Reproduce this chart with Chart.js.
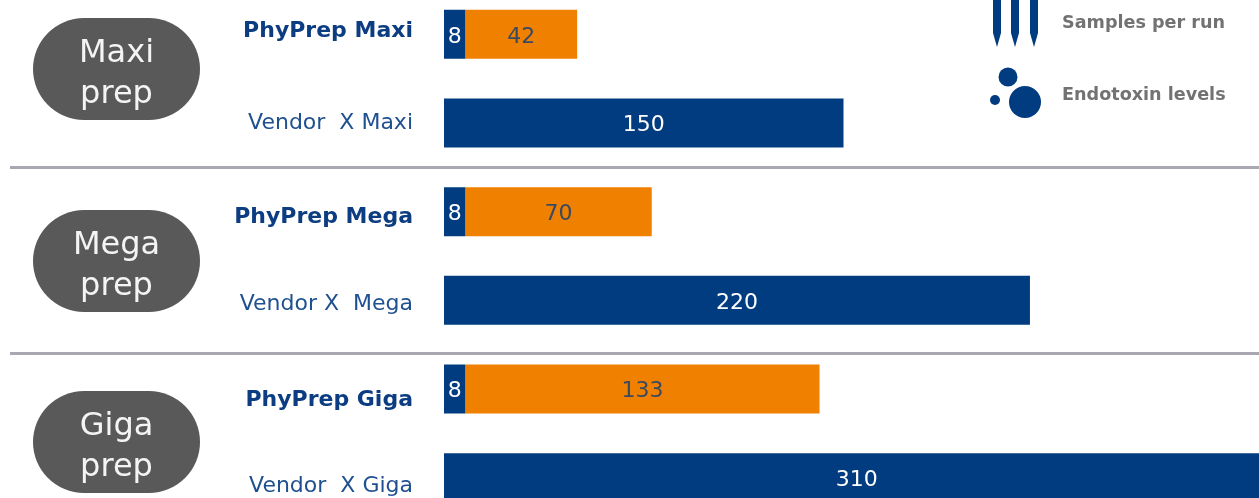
<!DOCTYPE html>
<html>
<head>
<meta charset="utf-8">
<script src="https://cdn.jsdelivr.net/npm/chart.js@4"></script>
<style>
  html, body { margin: 0; background: #fff; }
  #wrap { position: relative; width: 1259px; height: 498px; overflow: hidden; font-family: "DejaVu Sans", sans-serif; filter: blur(0.4px); }
  canvas { position: absolute; left: 0; top: -10px; }
  .rule { position: absolute; left: 10px; right: 0; height: 3px; background: #a8a8b2; }
  .pill { position: absolute; left: 33px; width: 167px; height: 102px; border-radius: 51px; background: #595959; color: #f4f4f4; font-size: 32px; line-height: 41px; text-align: center; padding-top: 13px; box-sizing: border-box; }
  .key { position: absolute; left: 1062px; font-size: 17.6px; font-weight: bold; color: #727272; white-space: nowrap; }
  svg { position: absolute; left: 980px; top: 0; }
</style>
</head>
<body>
<div id="wrap">
  <canvas id="chart" width="1259" height="532"></canvas>
  <div class="rule" style="top:166px"></div>
  <div class="rule" style="top:352px"></div>
  <div class="pill" style="top:18px">Maxi<br>prep</div>
  <div class="pill" style="top:210px">Mega<br>prep</div>
  <div class="pill" style="top:391px">Giga<br>prep</div>
  <svg width="70" height="125" fill="#003c7f">
    <path d="M13 0h8v33l-4 14l-4-14z"/>
    <path d="M31 0h8v33l-4 14l-4-14z"/>
    <path d="M50 0h8v33l-4 14l-4-14z"/>
    <circle cx="28" cy="77" r="9.500"/>
    <circle cx="15" cy="100" r="5"/>
    <circle cx="45" cy="102" r="16"/>
  </svg>
  <div class="key" style="top:12px">Samples per run</div>
  <div class="key" style="top:84px">Endotoxin levels</div>
</div>
<script>
const categories = ['PhyPrep Maxi', 'Vendor  X Maxi', 'PhyPrep Mega', 'Vendor X  Mega', 'PhyPrep Giga', 'Vendor  X Giga'];
const blueValues = [8, 150, 8, 220, 8, 310];
const orangeValues = [42, null, 70, null, 133, null];
const blue = '#003c7f';
const orange = '#f08000';

// the category labels sit a little off the bar centres in the original
const labelShift = [-3, 0, 6, 4, 11, 9];

const barLabels = {
  id: 'barLabels',
  afterDatasetsDraw(chart) {
    const ctx = chart.ctx;
    const y = chart.scales.y;
    ctx.save();
    ctx.textBaseline = 'middle';

    chart.data.datasets.forEach((ds, d) => {
      chart.getDatasetMeta(d).data.forEach((bar, i) => {
        if (ds.data[i] == null) return;
        ctx.textAlign = 'center';
        ctx.font = '22px "DejaVu Sans"';
        ctx.fillStyle = d === 0 ? '#ffffff' : '#3a4a60';
        ctx.fillText(ds.data[i], (bar.x + bar.base) / 2, bar.y + 2.5);
      });
    });

    categories.forEach((label, i) => {
      const bold = i % 2 === 0;
      ctx.textAlign = 'right';
      ctx.font = (bold ? 'bold ' : '') + '22px "DejaVu Sans"';
      ctx.fillStyle = bold ? '#0c3c82' : '#1f5090';
      ctx.fillText(label, 413, y.getPixelForValue(i) + labelShift[i]);
    });
    ctx.restore();
  },
};

new Chart(document.getElementById('chart'), {
  type: 'bar',
  data: {
    labels: categories,
    datasets: [
      { label: 'Base', data: blueValues, backgroundColor: blue },
      { label: 'Rest', data: orangeValues, backgroundColor: orange },
    ],
  },
  options: {
    indexAxis: 'y',
    responsive: false,
    animation: false,
    layout: { padding: 0 },
    datasets: { bar: { barPercentage: 1, categoryPercentage: 0.553 } },
    plugins: { legend: { display: false }, tooltip: { enabled: false } },
    scales: {
      x: { stacked: true, display: false, min: 0, max: 306 },
      y: {
        stacked: true,
        grid: { display: false },
        border: { display: false },
        ticks: { display: false },
        afterFit: (scale) => { scale.width = 444; },
      },
    },
  },
  plugins: [barLabels],
});
</script>
</body>
</html>
